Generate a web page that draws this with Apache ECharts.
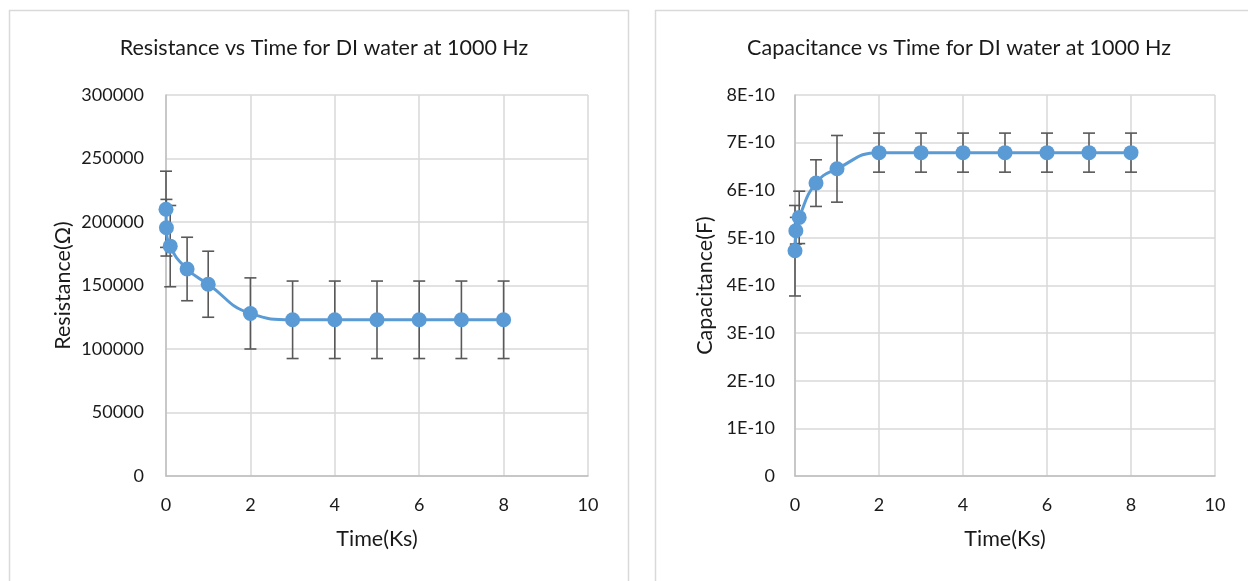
<!DOCTYPE html>
<html>
<head>
<meta charset="utf-8">
<script src="https://cdn.jsdelivr.net/npm/echarts@6/dist/echarts.min.js"></script>
<style>
html,body{margin:0;padding:0;background:#fff;}
#c{width:1248px;height:581px;}
</style>
</head>
<body>
<div id="c"></div>
<script>
// ---- data ----
const resTime = [0, 0.01, 0.1, 0.5, 1, 2, 3, 4, 5, 6, 7, 8];
const resValues = [210000, 195500, 181000, 163000, 151000, 128000, 123000, 123000, 123000, 123000, 123000, 123000];
const resErrors = [30000, 22300, 32000, 25000, 26000, 28000, 30500, 30500, 30500, 30500, 30500, 30500];

const capTime = [0, 0.02, 0.1, 0.5, 1, 2, 3, 4, 5, 6, 7, 8];
const capValues = [4.73e-10, 5.15e-10, 5.43e-10, 6.15e-10, 6.45e-10, 6.79e-10, 6.79e-10, 6.79e-10, 6.79e-10, 6.79e-10, 6.79e-10, 6.79e-10];
const capErrors = [0.95e-10, 0.28e-10, 0.55e-10, 0.49e-10, 0.70e-10, 0.41e-10, 0.41e-10, 0.41e-10, 0.41e-10, 0.41e-10, 0.41e-10, 0.41e-10];

const xTickLabels = ['0', '2', '4', '6', '8', '10'];
const resTickLabels = ['0', '50000', '100000', '150000', '200000', '250000', '300000'];
const capTickLabels = ['0', '1E-10', '2E-10', '3E-10', '4E-10', '5E-10', '6E-10', '7E-10', '8E-10'];

const titles = ['Resistance vs Time for DI water at 1000 Hz', 'Capacitance vs Time for DI water at 1000 Hz'];
const yNames = ['Resistance(Ω)', 'Capacitance(F)'];
const xName = 'Time(Ks)';

// ---- chart ----
const FONT = 'Lato';
const TXT = '#1a1a1a';
const LINE = '#5B9BD5';
const GRIDC = '#D9D9D9';
const ERRC = '#595959';

function pairs(xs, ys) { return xs.map((x, i) => [x, ys[i]]); }
function triples(xs, ys, es) { return xs.map((x, i) => [x, ys[i], es[i]]); }

function errRender(params, api) {
  const x = api.value(0), y = api.value(1), e = api.value(2);
  const t = api.coord([x, y + e]);
  const b = api.coord([x, y - e]);
  const hw = 6;
  const st = { stroke: ERRC, lineWidth: 1.6 };
  return {
    type: 'group',
    children: [
      { type: 'line', shape: { x1: t[0], y1: t[1], x2: b[0], y2: b[1] }, style: st },
      { type: 'line', shape: { x1: t[0] - hw, y1: t[1], x2: t[0] + hw, y2: t[1] }, style: st },
      { type: 'line', shape: { x1: b[0] - hw, y1: b[1], x2: b[0] + hw, y2: b[1] }, style: st }
    ]
  };
}

function xAxisCfg(gi) {
  return {
    type: 'value', gridIndex: gi, min: 0, max: 10, interval: 2,
    name: xName, nameLocation: 'middle', nameGap: 52,
    nameTextStyle: { fontFamily: FONT, fontSize: 21.5, color: TXT },
    axisLine: { show: true, onZero: false, lineStyle: { color: '#BFBFBF', width: 1.5 } },
    axisTick: { show: false },
    axisLabel: { fontFamily: FONT, fontSize: 18, color: TXT, margin: 20,
      formatter: v => xTickLabels[Math.round(v / 2)] },
    splitLine: { show: true, lineStyle: { color: GRIDC, width: 1.5 } }
  };
}

const chart = echarts.init(document.getElementById('c'), null, { renderer: 'canvas' });
chart.setOption({
  backgroundColor: '#fff',
  animation: false,
  graphic: [
    { type: 'rect', shape: { x: 9.5, y: 10.5, width: 619, height: 620 }, style: { fill: 'none', stroke: '#D9D9D9', lineWidth: 1.5 }, z: -10 },
    { type: 'rect', shape: { x: 655.5, y: 10.5, width: 620, height: 620 }, style: { fill: 'none', stroke: '#D9D9D9', lineWidth: 1.5 }, z: -10 }
  ],
  title: [
    { text: titles[0], left: 319, top: 32, textAlign: 'center',
      textStyle: { fontFamily: FONT, fontSize: 21.5, fontWeight: 'normal', color: TXT } },
    { text: titles[1], left: 954, top: 32, textAlign: 'center',
      textStyle: { fontFamily: FONT, fontSize: 21.5, fontWeight: 'normal', color: TXT } }
  ],
  grid: [
    { left: 166, top: 95, width: 422, height: 381 },
    { left: 795, top: 95, width: 420, height: 381 }
  ],
  xAxis: [xAxisCfg(0), xAxisCfg(1)],
  yAxis: [
    { type: 'value', gridIndex: 0, min: 0, max: 300000, interval: 50000,
      name: yNames[0], nameLocation: 'middle', nameGap: 92, nameRotate: 90,
      nameTextStyle: { fontFamily: FONT, fontSize: 21.5, color: TXT },
      axisLine: { show: true, lineStyle: { color: '#BFBFBF', width: 1.5 } },
      axisTick: { show: false },
      axisLabel: { fontFamily: FONT, fontSize: 18, color: TXT, margin: 22,
        formatter: v => resTickLabels[Math.round(v / 50000)] },
      splitLine: { show: true, lineStyle: { color: GRIDC, width: 1.5 } } },
    { type: 'value', gridIndex: 1, min: 0, max: 8e-10, interval: 1e-10,
      name: yNames[1], nameLocation: 'middle', nameGap: 79, nameRotate: 90,
      nameTextStyle: { fontFamily: FONT, fontSize: 21.5, color: TXT },
      axisLine: { show: true, lineStyle: { color: '#BFBFBF', width: 1.5 } },
      axisTick: { show: false },
      axisLabel: { fontFamily: FONT, fontSize: 18, color: TXT, margin: 20,
        formatter: v => capTickLabels[Math.round(v / 1e-10)] },
      splitLine: { show: true, lineStyle: { color: GRIDC, width: 1.5 } } }
  ],
  series: [
    { type: 'custom', xAxisIndex: 0, yAxisIndex: 0, renderItem: errRender,
      data: triples(resTime, resValues, resErrors), encode: { x: 0, y: 1 }, z: 1, clip: false, silent: true },
    { type: 'line', xAxisIndex: 0, yAxisIndex: 0, data: pairs(resTime, resValues),
      smooth: 0.5, symbol: 'circle', symbolSize: 15, clip: false, z: 3,
      lineStyle: { color: LINE, width: 3 }, itemStyle: { color: LINE } },
    { type: 'custom', xAxisIndex: 1, yAxisIndex: 1, renderItem: errRender,
      data: triples(capTime, capValues, capErrors), encode: { x: 0, y: 1 }, z: 1, clip: false, silent: true },
    { type: 'line', xAxisIndex: 1, yAxisIndex: 1, data: pairs(capTime, capValues),
      smooth: 0.5, symbol: 'circle', symbolSize: 15, clip: false, z: 3,
      lineStyle: { color: LINE, width: 3 }, itemStyle: { color: LINE } }
  ]
});
</script>
</body>
</html>
